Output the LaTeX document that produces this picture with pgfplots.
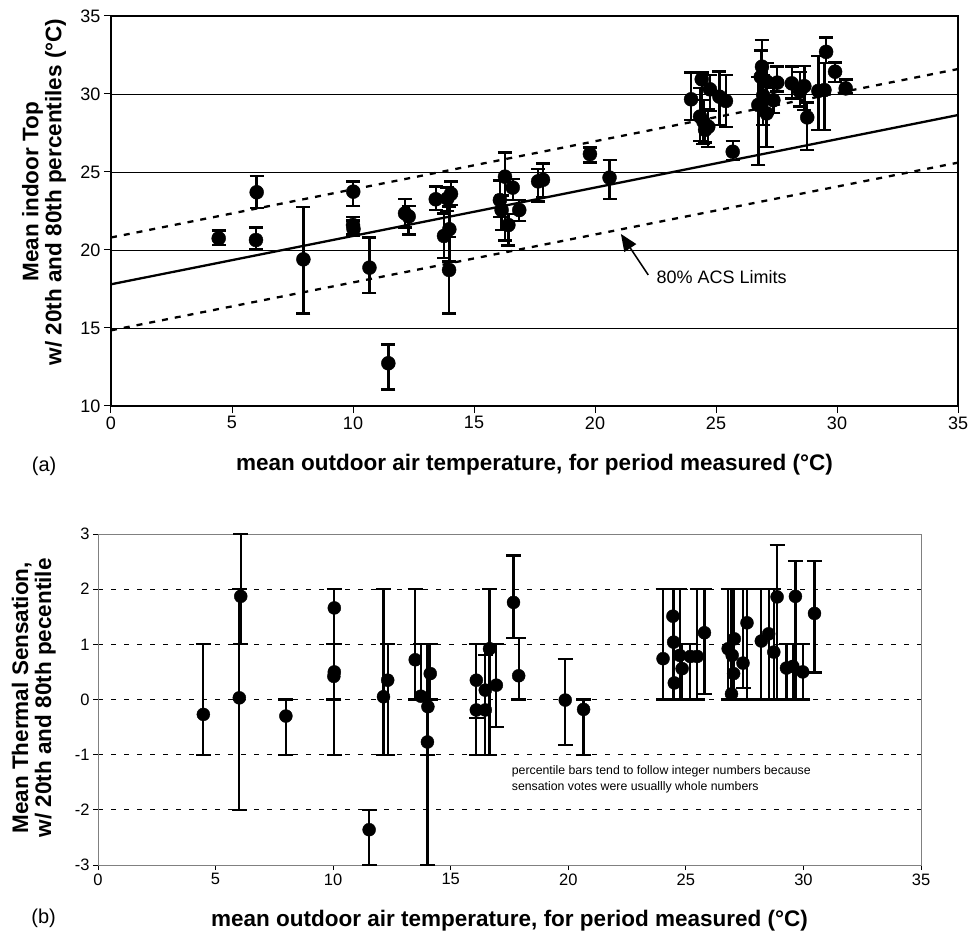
\documentclass[border=0pt]{standalone}
\usepackage{fontspec}
\setmainfont{Liberation Sans}
\usepackage{pgfplots}
\usepackage{pgfplotstable}
\pgfplotsset{compat=1.18}
\usetikzlibrary{arrows.meta}

% (a) mean indoor operative temperature, 20th and 80th percentiles
\pgfplotstableread{
x     y     lo    hi
4.45  20.75 20.32 21.24
6.02  23.70 22.71 24.76
5.99  20.64 20.06 21.45
7.95  19.40 15.92 22.74
10.01 23.74 22.82 24.38
10.00 21.60 21.00 22.10
10.02 21.35 20.90 21.90
10.68 18.87 17.26 20.81
11.46 12.74 11.07 13.95
12.15 22.35 21.43 23.27
12.30 22.15 21.00 22.82
13.42 23.25 22.56 24.06
13.90 23.30 22.50 24.00
14.05 23.60 22.90 24.38
13.76 20.90 19.47 22.35
13.98 21.33 19.25 22.80
13.97 18.72 15.92 20.85
16.28 24.70 20.60 26.26
16.60 24.00 23.20 24.55
16.07 23.20 22.10 24.45
16.14 22.56 21.30 23.50
16.42 21.60 20.30 22.30
16.87 22.56 21.86 23.20
17.65 24.40 23.10 25.20
17.85 24.50 23.40 25.55
19.79 26.15 25.60 26.58
20.60 24.64 23.27 25.77
23.97 29.66 28.33 31.37
24.41 30.94 28.50 31.37
24.75 30.30 28.90 31.20
25.14 29.83 28.00 31.43
25.41 29.55 27.90 31.20
24.34 28.55 27.00 30.40
24.48 28.23 26.80 29.60
24.68 27.90 26.60 29.00
24.55 27.70 26.90 28.90
25.69 26.30 25.77 26.99
26.90 31.75 29.00 33.46
26.85 31.10 29.50 32.80
27.09 30.80 28.70 32.00
27.53 30.73 30.15 31.75
27.37 29.60 28.80 30.40
26.75 29.30 25.45 31.10
27.09 28.76 26.60 29.80
26.95 29.90 28.00 31.20
28.13 30.68 29.72 31.75
28.47 30.15 29.20 31.40
28.65 30.50 28.97 31.80
28.77 28.50 26.40 29.45
29.23 30.20 27.70 32.44
29.48 30.25 27.70 32.00
29.55 32.70 31.97 33.63
29.92 31.43 30.75 32.03
30.36 30.36 30.04 30.94
}\topdata

% (b) mean thermal sensation, 20th and 80th percentiles
\pgfplotstableread{
x     y     lo    hi
4.48  -0.27 -1    1
6.07  1.87  1     3
6.01  0.03  -2    2
7.99  -0.30 -1    0
10.05 1.66  1     2
10.05 0.50  -1    2
10.03 0.42  0     1
11.53 -2.36 -3    -2
12.14 0.05  -1    2
12.32 0.35  -1    1
13.49 0.72  0     2
13.73 0.06  0     1
14.03 -0.13 -1    1
14.01 -0.77 -3    1
14.13 0.47  0     1
16.09 0.35  -1    1
16.09 -0.19 -0.33 1
16.47 -0.19 -1    1
16.47 0.17  -1    0.8
16.65 0.92  -1    2
16.94 0.26  -0.5  1
17.67 1.76  1.12  2.61
17.89 0.43  0     1.12
19.87 -0.01 -0.83 0.74
20.65 -0.18 -1    0
24.03 0.74  0     2
24.45 1.51  0     2
24.48 1.04  0     2
24.51 0.30  0     2
24.74 0.80  0     2
24.84 0.56  0     1
25.19 0.78  0     1
25.48 0.78  0     2
25.79 1.21  0.1   2
26.80 0.92  0     2
26.97 0.80  0     2
27.06 1.10  0     2
27.03 0.47  0     2
26.94 0.10  0     2
27.43 0.66  0.21  2
27.60 1.39  0     2
28.21 1.06  0     2
28.52 1.19  0     2
28.74 0.86  0     2
28.88 1.86  0     2.8
29.28 0.57  0     1
29.55 0.60  0     1
29.66 1.87  0     2.51
29.97 0.50  0     1
30.47 1.56  0.49  2.51
}\botdata

\begin{document}
\begin{tikzpicture}
\useasboundingbox (0,0) rectangle (971pt,935pt);

\begin{axis}[
  at={(111pt,529pt)}, anchor=south west,
  scale only axis, width=847pt, height=390pt,
  xmin=0, xmax=35, ymin=10, ymax=35,
  xtick={0,5,...,35}, ytick={15,20,25,30},
  extra y ticks={10,35}, extra y tick style={grid=none},
  tick pos=left, tick align=outside, major tick length=7pt,
  tick style={black, line width=1pt},
  axis line style={line width=2pt},
  ymajorgrids, grid style={black, line width=0.8pt},
  /pgf/number format/assume math mode=true,
  tick label style={font=\fontsize{18}{20}\selectfont},
  xlabel={mean outdoor air temperature, for period measured (°C)},
  xlabel style={font=\bfseries\fontsize{22.5}{25}\selectfont, at={(axis description cs:0.5,-0.151)}, anchor=center},
  ylabel={Mean indoor Top\\w/ 20th and 80th percentiles (°C)},
  ylabel style={font=\bfseries\fontsize{22.5}{23}\selectfont, align=center, at={(axis description cs:-0.079,0.549)}, anchor=center},
  clip=false,
]
\addplot[black, line width=2.3pt] coordinates {(0,17.8) (35,28.65)};
\addplot[black, line width=2.3pt, dash pattern=on 6pt off 7pt] coordinates {(0,20.8) (35,31.6)};
\addplot[black, line width=2.3pt, dash pattern=on 6pt off 7pt] coordinates {(0,14.85) (35,25.6)};
\addplot[black, only marks, mark=*, mark size=7pt, mark options={fill=black},
  error bars/.cd, y dir=both, y explicit,
  error bar style={line width=2.4pt, black},
  error mark options={rotate=90, mark size=7pt, line width=2.4pt, black}]
  table[x=x, y=y, y error plus expr=\thisrow{hi}-\thisrow{y}, y error minus expr=\thisrow{y}-\thisrow{lo}] {\topdata};
\draw[-{Triangle[length=17pt,width=14pt]}, line width=1.5pt] (axis cs:22.2,18.4) -- (axis cs:21.07,21.03);
\node[anchor=west, font=\fontsize{18}{20}\selectfont] at (axis cs:22.4,18.24) {80\% ACS Limits};
\node[font=\fontsize{20}{22}\selectfont] at (axis description cs:-0.079,-0.154) {(a)};
\end{axis}

\begin{axis}[
  at={(98pt,70pt)}, anchor=south west,
  scale only axis, width=823pt, height=331pt,
  xmin=0, xmax=35, ymin=-3, ymax=3,
  xtick={0,5,...,35}, ytick={-2,-1,0,1,2},
  extra y ticks={-3,3}, extra y tick style={grid=none},
  tick pos=left, tick align=outside, major tick length=5pt,
  tick style={black, line width=0.8pt},
  axis line style={gray, line width=0.9pt},
  ymajorgrids, grid style={black, line width=0.7pt, dash pattern=on 5pt off 8pt},
  /pgf/number format/assume math mode=true,
  tick label style={font=\fontsize{16.5}{18}\selectfont},
  xlabel={mean outdoor air temperature, for period measured (°C)},
  xlabel style={font=\bfseries\fontsize{22.5}{25}\selectfont, at={(axis description cs:0.5,-0.169)}, anchor=center},
  ylabel={Mean Thermal Sensation,\\w/ 20th and 80th pecentile},
  ylabel style={font=\bfseries\fontsize{22.5}{23}\selectfont, align=center, at={(axis description cs:-0.078,0.505)}, anchor=center},
  clip=false,
]
\addplot[black, only marks, mark=*, mark size=6.5pt, mark options={fill=black},
  error bars/.cd, y dir=both, y explicit,
  error bar style={line width=2.2pt, black},
  error mark options={rotate=90, mark size=7.5pt, line width=2.2pt, black}]
  table[x=x, y=y, y error plus expr=\thisrow{hi}-\thisrow{y}, y error minus expr=\thisrow{y}-\thisrow{lo}] {\botdata};
\node[anchor=west, align=left, font=\fontsize{12.3}{16}\selectfont] at (axis cs:17.45,-1.44)
  {percentile bars tend to follow integer numbers because\\sensation votes were usuallly whole numbers};
\node[font=\fontsize{20}{22}\selectfont] at (axis description cs:-0.066,-0.160) {(b)};
\end{axis}
\end{tikzpicture}
\end{document}
